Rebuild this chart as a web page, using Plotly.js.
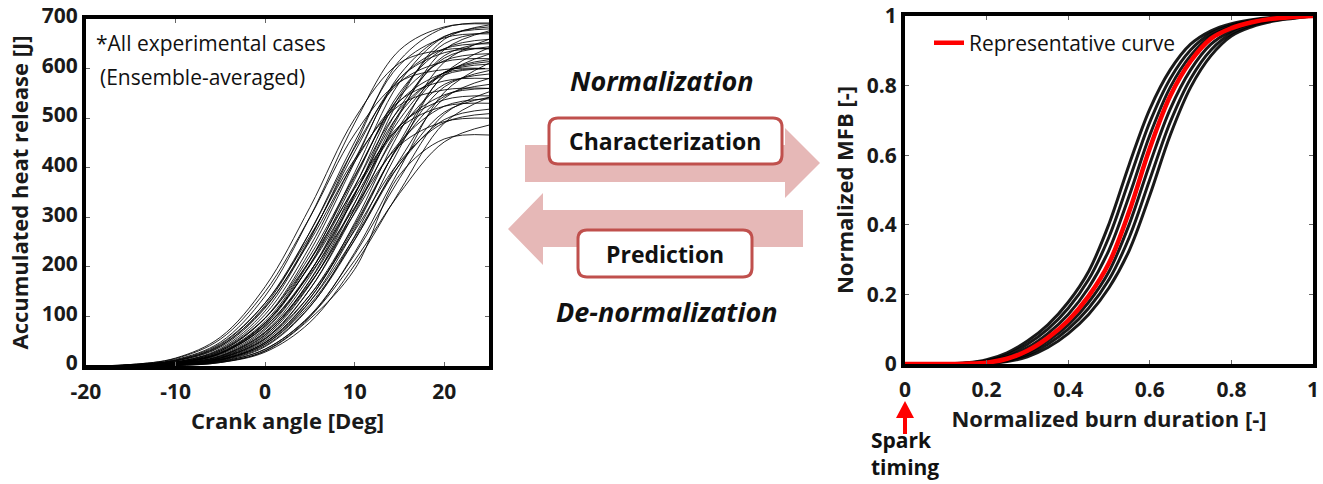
<!DOCTYPE html>
<html><head><meta charset="utf-8">
<script src="https://cdn.plot.ly/plotly-3.0.1.min.js"></script>
<style>html,body{margin:0;padding:0;background:#fff;}#chart{width:1323px;height:484px;}</style>
</head><body><div id="chart"></div>
<script>
// ---------- Left panel: accumulated heat release vs crank angle ----------
const crankAngle = [-20,-15,-10,-5,0,5,10,15,20,25];
const case01 = [0,3,15,54,150,300,468,573,598,600];
const case02 = [0,3,16,58,160,320,499,611,638,640];
const case03 = [0,2,12,45,127,262,417,526,557,560];
const case04 = [0,2,13,48,141,300,490,637,684,690];
const case05 = [0,2,11,43,127,270,440,572,614,620];
const case06 = [0,2,11,41,119,252,412,535,575,580];
const case07 = [0,2,10,40,122,270,452,607,662,670];
const case08 = [0,1,8,32,97,213,358,480,524,530];
const case09 = [0,1,8,35,111,256,443,616,682,692];
const case10 = [0,1,8,33,104,241,416,579,640,650];
const case11 = [0,1,7,30,96,222,384,534,591,600];
const case12 = [0,1,6,25,80,185,320,445,493,500];
const case13 = [0,1,7,30,97,231,411,587,665,680];
const case14 = [0,1,6,28,90,214,381,543,616,630];
const case15 = [0,1,6,25,80,190,339,483,547,560];
const case16 = [0,1,6,26,86,212,390,572,664,684];
const case17 = [0,1,6,25,83,205,376,551,640,659];
const case18 = [0,1,5,23,76,189,348,509,592,609];
const case19 = [0,1,5,20,68,167,308,451,524,539];
const case20 = [0,0,5,21,73,189,361,545,650,673];
const case21 = [0,0,4,20,69,181,345,521,621,644];
const case22 = [0,0,4,18,63,165,316,476,568,589];
const case23 = [0,0,3,17,62,173,345,538,659,688];
const case24 = [0,0,3,16,59,164,328,511,626,653];
const case25 = [0,0,3,16,56,155,310,484,592,618];
const case26 = [0,0,3,14,51,143,285,445,544,568];
const case27 = [0,0,3,13,47,130,260,406,497,518];
const case28 = [0,0,3,15,54,155,318,507,638,676];
const case29 = [0,0,3,13,48,137,281,447,563,596];
const case30 = [0,0,2,12,44,124,255,406,512,542];
const case31 = [0,0,2,12,47,136,289,472,613,659];
const case32 = [0,0,2,12,44,130,276,451,586,629];
const case33 = [0,0,2,11,41,120,254,415,540,580];
const case34 = [0,0,2,9,34,100,213,348,452,486];
const case35 = [0,0,2,10,39,119,262,439,589,642];
const case36 = [0,0,2,9,34,102,225,378,508,553];
const case37 = [0,0,1,7,31,99,229,397,552,611];
const case38 = [0,0,1,7,28,88,204,352,490,542];
const case39 = [0,0,1,8,30,95,195,385,458,466];
const case40 = [0,0,4,19,66,172,329,497,592,614];
const case41 = [0,1,6,26,86,204,363,518,587,600];
const case42 = [0,2,10,38,117,258,432,580,632,640];
const case43 = [0,0,3,16,55,143,273,412,491,509];
const case44 = [0,1,7,27,87,202,349,485,537,545];
const heatReleaseCases = [case01,case02,case03,case04,case05,case06,case07,case08,case09,case10,
  case11,case12,case13,case14,case15,case16,case17,case18,case19,case20,
  case21,case22,case23,case24,case25,case26,case27,case28,case29,case30,
  case31,case32,case33,case34,case35,case36,case37,case38,case39,case40,
  case41,case42,case43,case44];
const leftXTickVals = [-20,-10,0,10,20];
const leftXTickText = ['-20','-10','0','10','20'];
const leftYTickVals = [0,100,200,300,400,500,600,700];
const leftYTickText = ['0','100','200','300','400','500','600','700'];

// ---------- Right panel: normalized MFB vs normalized burn duration ----------
const burnDuration = [0,0.1,0.15,0.2,0.25,0.3,0.35,0.4,0.45,0.5,0.55,0.6,0.65,0.7,0.75,0.8,0.85,0.9,0.95,1];
const mfbRepresentative = [0,0,0.001,0.004,0.015,0.038,0.075,0.125,0.195,0.29,0.44,0.62,0.77,0.87,0.935,0.965,0.982,0.992,0.997,1];
const mfbEarly3 = [0,0.0008,0.0033,0.0123,0.0323,0.0658,0.1125,0.1775,0.266,0.4025,0.575,0.7325,0.845,0.919,0.9575,0.978,0.9895,0.996,0.999,1];
const mfbEarly2 = [0,0.0005,0.0025,0.0095,0.0265,0.0565,0.1,0.16,0.2425,0.365,0.53,0.695,0.82,0.9025,0.95,0.9735,0.987,0.9945,0.9985,1];
const mfbEarly1 = [0,0.0003,0.0018,0.0068,0.0208,0.047,0.0875,0.1425,0.219,0.3275,0.485,0.6575,0.795,0.886,0.9425,0.969,0.9845,0.993,0.998,1];
const mfbMid = [0,0,0.001,0.004,0.015,0.038,0.075,0.125,0.195,0.29,0.44,0.62,0.77,0.87,0.935,0.965,0.982,0.992,0.997,1];
const mfbLate1 = [0,0,0.0008,0.0033,0.0123,0.0323,0.0658,0.1125,0.1775,0.266,0.4025,0.575,0.7325,0.845,0.919,0.9575,0.978,0.9895,0.996,1];
const mfbLate2 = [0,0,0.0005,0.0025,0.0095,0.0265,0.0565,0.1,0.16,0.2425,0.365,0.53,0.695,0.82,0.9025,0.95,0.9735,0.987,0.9945,1];
const mfbLate3 = [0,0,0.0003,0.0018,0.0068,0.0208,0.0473,0.0875,0.1425,0.219,0.3275,0.485,0.6575,0.795,0.886,0.9425,0.969,0.9845,0.993,1];
const mfbCases = [mfbEarly3,mfbEarly2,mfbEarly1,mfbMid,mfbLate1,mfbLate2,mfbLate3];
const rightTickVals = [0,0.2,0.4,0.6,0.8,1];
const rightTickText = ['0','0.2','0.4','0.6','0.8','1'];

// ---------- build ----------
const W = 1323, H = 484;
const fx = x => x / W;
const fy = y => 1 - y / H;
const FONT = '"Open Sans", Lato, sans-serif';
const TXT = '#1a1a1a';

const traces = [];
heatReleaseCases.forEach((vals, i) => {
  traces.push({x: crankAngle, y: vals, type: 'scatter', mode: 'lines', xaxis: 'x', yaxis: 'y',
    line: {color: 'rgba(0,0,0,0.85)', width: 1, shape: 'spline'}, showlegend: false, hoverinfo: 'skip',
    name: 'Case ' + (i + 1)});
});
mfbCases.forEach((vals, i) => {
  traces.push({x: burnDuration, y: vals, type: 'scatter', mode: 'lines', xaxis: 'x2', yaxis: 'y2',
    line: {color: 'rgba(0,0,0,0.9)', width: 3, shape: 'spline'}, showlegend: false, hoverinfo: 'skip',
    name: 'Normalized case ' + (i + 1)});
});
traces.push({x: burnDuration, y: mfbRepresentative, type: 'scatter', mode: 'lines', xaxis: 'x2', yaxis: 'y2',
  line: {color: '#ff0000', width: 4.5, shape: 'spline'}, name: 'Representative curve', showlegend: true});

function axisCommon() {
  return {showline: true, linewidth: 4, linecolor: '#000', mirror: 'allticks', ticks: 'inside', ticklen: 4,
    tickwidth: 1, tickcolor: '#666', showgrid: false, zeroline: false, fixedrange: true,
    tickfont: {family: FONT, size: 21, weight: 700, color: TXT}};
}
const titleFont = {family: FONT, size: 22, weight: 700, color: TXT};

function rr(x0, y0, x1, y1, r) {
  const P = (x, y) => fx(x) + ',' + fy(y);
  return 'M' + P(x0 + r, y0) + ' L' + P(x1 - r, y0) + ' Q' + P(x1, y0) + ' ' + P(x1, y0 + r) +
    ' L' + P(x1, y1 - r) + ' Q' + P(x1, y1) + ' ' + P(x1 - r, y1) + ' L' + P(x0 + r, y1) +
    ' Q' + P(x0, y1) + ' ' + P(x0, y1 - r) + ' L' + P(x0, y0 + r) + ' Q' + P(x0, y0) + ' ' + P(x0 + r, y0) + ' Z';
}
function poly(pts) {
  return 'M' + pts.map(p => fx(p[0]) + ',' + fy(p[1])).join(' L') + ' Z';
}
const pink = '#e6b8b7', boxRed = '#c0504d';
const shapes = [
  {type: 'path', xref: 'paper', yref: 'paper', fillcolor: pink, line: {width: 0},
   path: poly([[525,145],[785,145],[785,128],[820,163],[785,198],[785,182],[525,182]])},
  {type: 'path', xref: 'paper', yref: 'paper', fillcolor: pink, line: {width: 0},
   path: poly([[803,210],[543,210],[543,193],[508,229],[543,265],[543,247],[803,247]])},
  {type: 'path', xref: 'paper', yref: 'paper', fillcolor: '#fff', line: {color: boxRed, width: 3},
   path: rr(549,118,782,164,9)},
  {type: 'path', xref: 'paper', yref: 'paper', fillcolor: '#fff', line: {color: boxRed, width: 3},
   path: rr(578,230,752,277,9)},
  {type: 'path', xref: 'paper', yref: 'paper', fillcolor: '#ff0000', line: {width: 0},
   path: poly([[903,434],[903,418],[896,418],[905,401],[914,418],[907,418],[907,434]])}
];

function ann(text, x, y, size, xanchor, extra) {
  return Object.assign({text: text, x: fx(x), y: fy(y), xref: 'paper', yref: 'paper', showarrow: false,
    xanchor: xanchor || 'center', yanchor: 'middle', font: {family: FONT, size: size, color: '#111'}}, extra || {});
}
const annotations = [
  ann('*All experimental cases', 94, 43, 21, 'left'),
  ann('(Ensemble-averaged)', 98, 77, 21, 'left'),
  ann('<b><i>Normalization</i></b>', 662, 80, 27),
  ann('<b><i>De-normalization</i></b>', 667, 311, 27),
  ann('<b>Characterization</b>', 665, 141, 23),
  ann('<b>Prediction</b>', 665, 254, 23),
  ann('<b>Spark</b><br><b>timing</b>', 870, 453, 21, 'left', {align: 'left', borderpad: 0})
];

const layout = {
  width: W, height: H, margin: {l: 0, r: 0, t: 0, b: 0},
  paper_bgcolor: '#fff', plot_bgcolor: '#fff',
  font: {family: FONT, size: 20, color: TXT},
  showlegend: true,
  legend: {x: fx(929), y: fy(43), xanchor: 'left', yanchor: 'middle', bgcolor: 'rgba(0,0,0,0)',
    borderwidth: 0, font: {family: FONT, size: 21, color: '#111'}},
  xaxis: Object.assign(axisCommon(), {domain: [fx(86), fx(489)], range: [-20, 25], anchor: 'y',
    tickmode: 'array', tickvals: leftXTickVals, ticktext: leftXTickText, ticklabelstandoff: 4,
    title: {text: 'Crank angle [Deg]', font: titleFont, standoff: 9}}),
  yaxis: Object.assign(axisCommon(), {domain: [1 - 366 / H, 1 - 19 / H], range: [0, 700], anchor: 'x',
    tickmode: 'array', tickvals: leftYTickVals, ticktext: leftYTickText, ticklabelshift: -3,
    title: {text: 'Accumulated heat release [J]', font: titleFont, standoff: 8}}),
  xaxis2: Object.assign(axisCommon(), {domain: [fx(905), fx(1313)], range: [0, 1], anchor: 'y2',
    tickmode: 'array', tickvals: rightTickVals, ticktext: rightTickText, ticklabelstandoff: 4,
    title: {text: 'Normalized burn duration [-]', font: titleFont, standoff: 9}}),
  yaxis2: Object.assign(axisCommon(), {domain: [1 - 364 / H, 1 - 16 / H], range: [0, 1], anchor: 'x2',
    tickmode: 'array', tickvals: rightTickVals, ticktext: rightTickText,
    title: {text: 'Normalized MFB [-]', font: titleFont, standoff: 8}}),
  shapes: shapes,
  annotations: annotations
};

Plotly.newPlot('chart', traces, layout, {displayModeBar: false, staticPlot: true});
</script>
</body></html>
